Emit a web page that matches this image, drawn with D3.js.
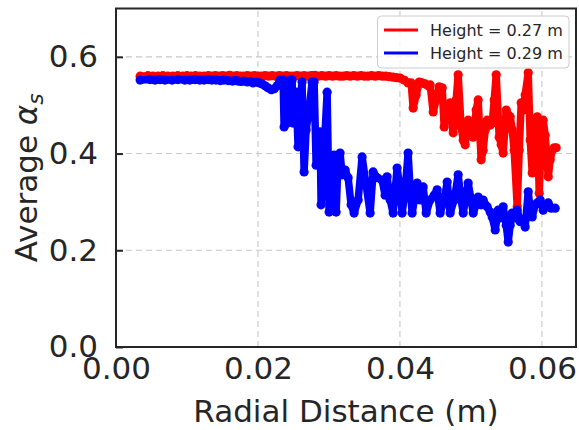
<!DOCTYPE html>
<html><head><meta charset="utf-8">
<script src="https://cdn.jsdelivr.net/npm/d3@7"></script>
<style>body{margin:0;background:#fff}svg{display:block}text{font-family:"DejaVu Sans",sans-serif;fill:#262626}</style>
</head><body><svg id="c" width="579" height="430"></svg>
<script>
const xTicks=[0,0.02,0.04,0.06];
const yTicks=[0,0.2,0.4,0.6];
const xTickLabels=["0.00","0.02","0.04","0.06"];
const yTickLabels=["0.0","0.2","0.4","0.6"];
const seriesNames=["Height = 0.27 m","Height = 0.29 m"];
const seriesColors=["#ff0000","#0000ff"];

// Height = 0.27 m
const redX=[0.0034,0.0045,0.0052,0.0059,0.0066,0.0073,0.0080,0.0087,0.0094,0.0100,0.0106,0.0112,0.0118,0.0124,0.0130,0.0135,0.0140,0.0145,0.0150,0.0155,0.0160,0.0165,0.0170,0.0175,0.0180,0.0185,0.0190,0.0195,0.0200,0.0205,0.0210,0.0215,0.0220,0.0225,0.0230,0.0235,0.0240,0.0245,0.0250,0.0255,0.0260,0.0265,0.0270,0.0275,0.0280,0.0285,0.0290,0.0295,0.0300,0.0305,0.0310,0.0315,0.0320,0.0325,0.0330,0.0335,0.0340,0.0345,0.0350,0.0355,0.0360,0.0365,0.0370,0.0375,0.0380,0.0385,0.0390,0.0395,
0.04003,0.04059,0.04115,0.04158,0.04186,0.04228,0.04271,0.04313,0.04355,0.04397,0.04425,0.04468,0.04510,0.04552,0.04595,0.04623,0.04665,0.04707,0.04750,0.04792,0.04820,0.04862,0.04891,0.04919,0.04961,0.05003,0.05032,0.05074,0.05102,0.05144,0.05172,0.05201,0.05229,0.05271,0.05299,0.05328,0.05356,0.05398,0.05426,0.05454,0.05497,0.05525,0.05553,0.05581,0.05609,0.05652,0.05680,0.05708,0.05736,0.05764,0.05807,0.05835,0.05863,0.05891,0.05934,0.05962,0.05990,0.06018,0.06046,0.06089,0.06117,0.06145,0.06173,0.06201];
const redY=[0.560,0.561,0.560,0.560,0.561,0.560,0.560,0.561,0.560,0.561,0.560,0.561,0.560,0.560,0.561,0.560,0.561,0.560,0.561,0.560,0.562,0.560,0.561,0.560,0.560,0.561,0.560,0.561,0.560,0.560,0.561,0.560,0.561,0.560,0.561,0.560,0.561,0.560,0.560,0.561,0.560,0.561,0.560,0.561,0.562,0.560,0.561,0.560,0.561,0.560,0.561,0.560,0.560,0.561,0.560,0.561,0.560,0.561,0.560,0.560,0.561,0.560,0.561,0.560,0.560,0.559,0.558,0.557,
0.556,0.552,0.546,0.546,0.494,0.521,0.548,0.546,0.544,0.540,0.542,0.486,0.511,0.538,0.536,0.455,0.490,0.505,0.443,0.511,0.563,0.455,0.428,0.418,0.469,0.453,0.434,0.490,0.511,0.387,0.407,0.449,0.469,0.459,0.463,0.511,0.563,0.434,0.418,0.401,0.490,0.480,0.476,0.449,0.407,0.290,0.407,0.505,0.490,0.521,0.567,0.428,0.360,0.469,0.476,0.318,0.428,0.469,0.438,0.352,0.387,0.407,0.412,0.412];

// Height = 0.29 m
const blueX=[0.0034,0.0048,0.0055,0.0062,0.0069,0.0079,0.0087,0.0097,0.0104,0.0111,0.0118,0.0124,0.0130,0.0135,0.0141,0.0147,0.0152,0.0158,0.0164,0.0168,0.0172,0.0176,0.0180,0.0185,0.0189,0.0193,0.0197,0.0202,0.0206,0.0210,0.0214,0.0219,0.0223,0.0227,
0.02311,0.02354,0.02368,0.02410,0.02452,0.02481,0.02495,0.02537,0.02565,0.02593,0.02621,0.02650,0.02678,0.02720,0.02762,0.02791,0.02819,0.02847,0.02875,0.02889,0.02932,0.02974,0.03002,0.03044,0.03072,0.03101,0.03129,0.03157,0.03185,0.03228,0.03270,0.03312,0.03354,0.03411,0.03467,0.03524,0.03580,0.03622,0.03679,0.03749,0.03791,0.03819,0.03862,0.03904,0.03960,0.04003,0.04031,0.04073,0.04115,0.04144,0.04172,0.04214,0.04242,0.04285,0.04327,0.04369,0.04425,0.04482,0.04524,0.04566,0.04623,0.04665,0.04707,0.04764,0.04820,0.04862,0.04891,0.04933,0.04961,0.05003,0.05032,0.05074,0.05102,0.05144,0.05172,0.05229,0.05271,0.05299,0.05342,0.05384,0.05412,0.05454,0.05497,0.05525,0.05553,0.05581,0.05624,0.05652,0.05694,0.05722,0.05764,0.05807,0.05835,0.05863,0.05905,0.05934,0.05976,0.06018,0.06060,0.06089,0.06131,0.06187];
const blueY=[0.552,0.553,0.552,0.553,0.552,0.552,0.553,0.552,0.552,0.553,0.552,0.552,0.553,0.552,0.552,0.551,0.552,0.551,0.550,0.551,0.550,0.549,0.550,0.548,0.549,0.546,0.548,0.546,0.544,0.540,0.536,0.532,0.534,0.540,
0.552,0.552,0.455,0.463,0.552,0.552,0.463,0.527,0.414,0.511,0.548,0.362,0.449,0.490,0.548,0.548,0.376,0.428,0.445,0.294,0.407,0.527,0.279,0.356,0.397,0.279,0.387,0.401,0.356,0.366,0.350,0.294,0.277,0.304,0.393,0.335,0.277,0.362,0.350,0.345,0.314,0.352,0.304,0.277,0.370,0.325,0.277,0.325,0.401,0.325,0.277,0.314,0.339,0.304,0.331,0.277,0.304,0.314,0.325,0.277,0.304,0.341,0.277,0.304,0.356,0.304,0.277,0.314,0.339,0.304,0.277,0.294,0.310,0.294,0.304,0.290,0.279,0.269,0.242,0.283,0.267,0.290,0.252,0.217,0.252,0.277,0.267,0.283,0.259,0.263,0.248,0.321,0.283,0.269,0.294,0.298,0.304,0.283,0.294,0.298,0.287,0.287];

const svg=d3.select("#c");
const L=116,R=576,T=8.5,B=347;
const x=d3.scaleLinear().domain([0,0.0648]).range([L,R]);
const y=d3.scaleLinear().domain([0,0.7]).range([B,T]);

// grid
const g=svg.append("g");
g.selectAll(".gx").data(xTicks.slice(1)).enter().append("line")
 .attr("x1",d=>x(d)).attr("x2",d=>x(d)).attr("y1",B).attr("y2",T)
 .attr("stroke","#c8c8c8").attr("stroke-width",1.1).attr("stroke-dasharray","6,4");
g.selectAll(".gy").data(yTicks.slice(1)).enter().append("line")
 .attr("x1",L).attr("x2",R).attr("y1",d=>y(d)).attr("y2",d=>y(d))
 .attr("stroke","#c8c8c8").attr("stroke-width",1.1).attr("stroke-dasharray","6,4");

// series
svg.append("clipPath").attr("id","pc").append("rect").attr("x",L).attr("y",T).attr("width",R-L).attr("height",B-T);
const series=[[redX,redY],[blueX,blueY]];
series.forEach((s,i)=>{
  const pts=s[0].map((v,k)=>[v,s[1][k]]);
  const gg=svg.append("g").attr("clip-path","url(#pc)");
  gg.append("path").datum(pts)
   .attr("d",d3.line().x(d=>x(d[0])).y(d=>y(d[1])))
   .attr("fill","none").attr("stroke",seriesColors[i]).attr("stroke-width",7.5)
   .attr("stroke-linejoin","round").attr("stroke-linecap","round");
  gg.selectAll("circle").data(pts).enter().append("circle")
   .attr("cx",d=>x(d[0])).attr("cy",d=>y(d[1])).attr("r",4.6).attr("fill",seriesColors[i]);
});

// axes
const yAxis=d3.axisLeft(y).tickValues(yTicks).tickSize(-7).tickPadding(18).tickFormat((d,i)=>yTickLabels[i]);
const ya=svg.append("g").attr("transform",`translate(${L},0)`).call(yAxis);
ya.select(".domain").remove();
ya.selectAll(".tick line").attr("stroke","#262626").attr("stroke-width",2);
ya.selectAll(".tick text").attr("font-size",31).attr("fill","#262626").style("font-family","DejaVu Sans");

const xAxis=d3.axisBottom(x).tickValues(xTicks).tickSize(0).tickPadding(10).tickFormat((d,i)=>xTickLabels[i]);
const xa=svg.append("g").attr("transform",`translate(0,${B})`).call(xAxis);
xa.select(".domain").remove();
xa.selectAll(".tick text").attr("font-size",31).attr("fill","#262626").style("font-family","DejaVu Sans");

// frame
svg.append("rect").attr("x",L).attr("y",T).attr("width",R-L).attr("height",B-T)
 .attr("fill","none").attr("stroke","#262626").attr("stroke-width",2);

// labels
svg.append("text").attr("x",(L+R)/2).attr("y",422).attr("text-anchor","middle").attr("font-size",31).text("Radial Distance (m)");
const yl=svg.append("text").attr("transform",`translate(37,${(T+B)/2}) rotate(-90)`).attr("text-anchor","middle").attr("font-size",31);
yl.append("tspan").text("Average ");
yl.append("tspan").attr("font-style","italic").text("α");
yl.append("tspan").attr("font-style","italic").attr("font-size",22).attr("dy",6).text("s");

// legend
const lg=svg.append("g");
lg.append("rect").attr("x",377.5).attr("y",16).attr("width",191.5).attr("height",52).attr("rx",4)
 .attr("fill","#fff").attr("fill-opacity",0.8).attr("stroke","#cccccc").attr("stroke-width",1);
seriesNames.forEach((n,i)=>{
  const yy=30+i*23;
  lg.append("line").attr("x1",384).attr("x2",418).attr("y1",yy).attr("y2",yy).attr("stroke",seriesColors[i]).attr("stroke-width",3);
  lg.append("text").attr("x",430).attr("y",yy+5.8).attr("font-size",16).text(n);
});
</script></body></html>
